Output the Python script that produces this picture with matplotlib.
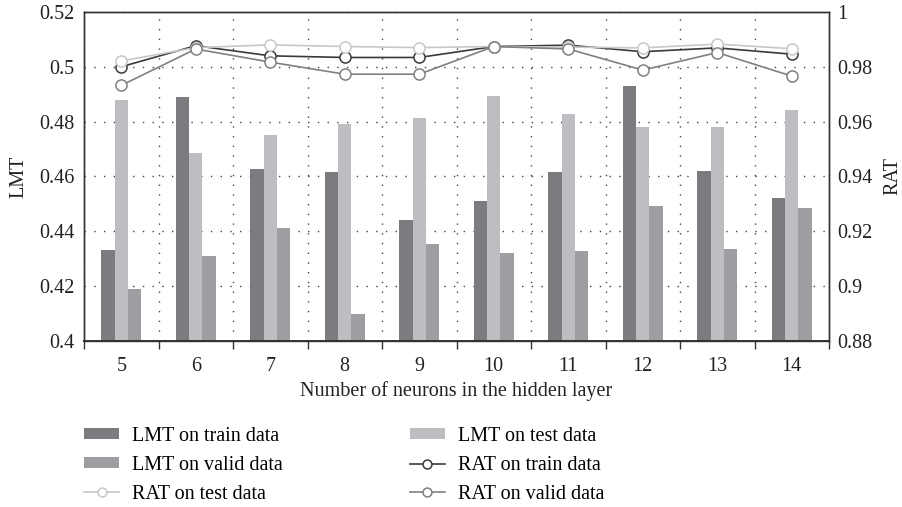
import matplotlib
matplotlib.use("Agg")
import matplotlib.pyplot as plt
import matplotlib.ticker as mticker
import numpy as np

plt.rcParams['font.family'] = ['Liberation Serif', 'DejaVu Serif']

# データ
neurons = [5, 6, 7, 8, 9, 10, 11, 12, 13, 14]
lmt_train = [0.4332, 0.4888, 0.4626, 0.4616, 0.4440, 0.4511, 0.4616, 0.4931, 0.4621, 0.4522]
lmt_test  = [0.4878, 0.4684, 0.4750, 0.4790, 0.4812, 0.4893, 0.4827, 0.4779, 0.4779, 0.4842]
lmt_valid = [0.4187, 0.4311, 0.4411, 0.4098, 0.4354, 0.4321, 0.4326, 0.4491, 0.4335, 0.4483]
rat_train = [0.9800, 0.9877, 0.9840, 0.9834, 0.9834, 0.9874, 0.9879, 0.9855, 0.9869, 0.9846]
rat_test  = [0.9821, 0.9870, 0.9880, 0.9874, 0.9870, 0.9874, 0.9872, 0.9869, 0.9883, 0.9866]
rat_valid = [0.9732, 0.9865, 0.9817, 0.9773, 0.9773, 0.9874, 0.9865, 0.9788, 0.9852, 0.9766]

c_train, c_test, c_valid = '#7b7c80', '#bdbec1', '#9d9ea1'
l_train, l_test, l_valid = '#3a3a3a', '#c8c8c8', '#808080'

fs = 14.5
x = np.arange(len(neurons))
bw = 0.18

fig = plt.figure(figsize=(9.02, 5.07), dpi=100)
ax = fig.add_axes([84/902, 1 - 340.7/507, 745/902, 328.7/507])
ax2 = ax.twinx()

b1 = ax.bar(x - bw, lmt_train, bw, color=c_train, zorder=2)
b2 = ax.bar(x, lmt_test, bw, color=c_test, zorder=2)
b3 = ax.bar(x + bw, lmt_valid, bw, color=c_valid, zorder=2)

mk = dict(marker='o', markersize=8, markerfacecolor='white', linewidth=1.2, markeredgewidth=1.1)
p1, = ax2.plot(x, rat_train, color=l_train, markeredgecolor=l_train, **mk)
p2, = ax2.plot(x, rat_test, color=l_test, markeredgecolor=l_test, **mk)
p3, = ax2.plot(x, rat_valid, color=l_valid, markeredgecolor=l_valid, **mk)

ax.set_xlim(-0.5, len(neurons) - 0.5)
ax.set_ylim(0.4, 0.52)
ax2.set_ylim(0.88, 1.0)
ax.set_yticks(np.arange(0.4, 0.5201, 0.02))
ax2.set_yticks(np.arange(0.88, 1.0001, 0.02))
fmt = mticker.FuncFormatter(lambda v, p: f"{v:.2f}".rstrip('0').rstrip('.'))
ax.yaxis.set_major_formatter(fmt)
ax2.yaxis.set_major_formatter(fmt)

# x軸: 目盛は境界、ラベルは中央
ax.set_xticks(x)
ax.set_xticklabels([str(n) for n in neurons])
ax.set_xticks(np.arange(-0.5, len(neurons), 1.0), minor=True)
ax.tick_params(axis='x', which='major', length=0, pad=12, labelsize=fs, colors='#222222')
ax.tick_params(axis='x', which='minor', length=6, width=1, direction='out', color='#333333')
ax.tick_params(axis='y', length=0, pad=7, labelsize=fs, labelcolor='#222222')
ax2.tick_params(axis='y', length=0, pad=6, labelsize=fs, labelcolor='#222222')

# グリッド
ax.set_axisbelow(True)
ax.grid(axis='y', which='major', color='#444444', linestyle=(0, (1, 6)), linewidth=1)
ax.grid(axis='x', which='minor', color='#444444', linestyle=(0, (1, 6)), linewidth=1)

for a in (ax, ax2):
    for s in a.spines.values():
        s.set_color('#333333')
        s.set_linewidth(1.0)
ax.spines['bottom'].set_linewidth(1.4)

ax.set_xlabel('Number of neurons in the hidden layer', fontsize=fs, color='#222222')
ax.xaxis.set_label_coords(0.5, (340.7 - 381) / 328.7)
ax.xaxis.label.set_va('top')
ax.set_ylabel('LMT', fontsize=fs, color='#222222')
ax.yaxis.set_label_coords(-0.075, 0.5)
ax2.set_ylabel('RAT', fontsize=fs, color='#222222')
ax2.yaxis.set_label_coords(1.0735, 0.5)

handles = [b1, b3, p2, b2, p1, p3]
labels = ['LMT on train data', 'LMT on valid data', 'RAT on test data',
          'LMT on test data', 'RAT on train data', 'RAT on valid data']
fig.legend(handles, labels, ncol=2, loc='upper left', bbox_to_anchor=(84/902, 1 - 427/507),
           frameon=False, fontsize=fs, borderpad=0, borderaxespad=0,
           handlelength=1.74, handleheight=0.45, handletextpad=0.65,
           columnspacing=6.3, labelspacing=0.49, markerscale=0.8)

fig.savefig('out.png', dpi=100)
